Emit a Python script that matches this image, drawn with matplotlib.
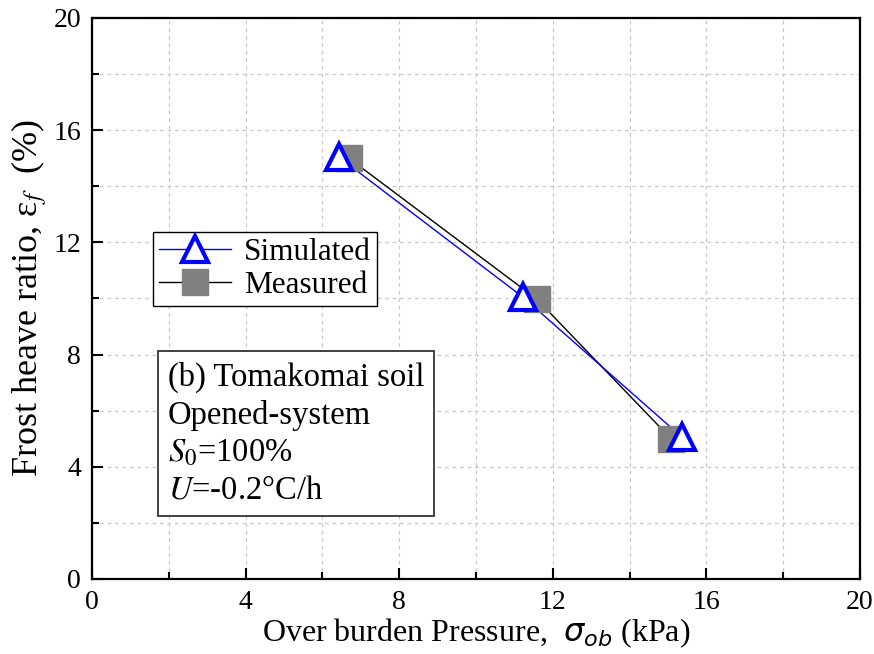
import numpy as np
import matplotlib
matplotlib.use("Agg")
import matplotlib.pyplot as plt
from matplotlib.ticker import MultipleLocator

plt.rcParams['font.family'] = ['Liberation Serif', 'DejaVu Serif']
plt.rcParams['mathtext.fontset'] = 'stix'

# data
sim_x = [6.43, 11.22, 15.36]
sim_y = [15.04, 10.05, 5.06]
meas_x = [6.69, 11.58, 15.08]
meas_y = [15.0, 9.98, 5.0]

x_ticks = [0, 4, 8, 12, 16, 20]
y_ticks = [0, 4, 8, 12, 16, 20]

fig = plt.figure(figsize=(8.74, 6.54), dpi=100)
ax = fig.add_axes([0.1053, 0.1147, 0.8787, 0.8578])

# lines first, markers on top
ax.plot(meas_x, meas_y, color='black', lw=1.0, zorder=3)
ax.plot(sim_x, sim_y, color='blue', lw=1.0, zorder=3)
ax.plot(meas_x, meas_y, ls='none', marker='s', ms=19, mfc='#808080', mec='#808080', zorder=4)
ax.plot(sim_x, sim_y, ls='none', marker='^', ms=19, mfc='white', mec='blue', mew=3, zorder=5)

# legend proxies
h_sim, = ax.plot([], [], color='blue', lw=1.0, marker='^', ms=19, mfc='white', mec='blue', mew=3)
h_meas, = ax.plot([], [], color='black', lw=1.0, marker='s', ms=19, mfc='#808080', mec='#808080')
leg = ax.legend([h_sim, h_meas], ['Simulated', 'Measured'], loc='upper left',
                bbox_to_anchor=(0.0794, 0.6185), borderaxespad=0, fontsize=22.5,
                handlelength=2.3, handletextpad=0.4, labelspacing=0.12,
                borderpad=0.2, fancybox=False, framealpha=1, edgecolor='black')
leg.get_frame().set_linewidth(1.0)

ax.text(0.099, 0.388,
        '(b) Tomakomai soil\nOpened-system\n$S_{\\mathit{0}}$=100%\n$U$=-0.2°C/h',
        transform=ax.transAxes, ha='left', va='top', fontsize=23.5, linespacing=1.3,
        bbox=dict(boxstyle='square,pad=0.3', fc='white', ec='#333333', lw=1.3))

ax.set_xlim(0, 20)
ax.set_ylim(0, 20)
ax.set_xticks(x_ticks)
ax.set_yticks(y_ticks)
ax.xaxis.set_minor_locator(MultipleLocator(2))
ax.yaxis.set_minor_locator(MultipleLocator(2))
ax.tick_params(which='both', direction='in', labelsize=20, width=1.5)
ax.tick_params(which='major', length=8)
ax.tick_params(which='minor', length=5)
ax.tick_params(axis='x', pad=8)
ax.tick_params(axis='y', pad=8)
ax.grid(True, which='both', ls=(0, (3, 3)), color='#c8c8c8', lw=0.9)
ax.set_axisbelow(True)
for s in ax.spines.values():
    s.set_linewidth(1.6)

ax.set_xlabel(r'Over burden Pressure,  $\sigma_{ob}$ (kPa)', fontsize=23,
              math_fontfamily='dejavusans', labelpad=1)
ax.set_ylabel(r'Frost heave ratio, ε$_f$  (%)', fontsize=26, labelpad=3)

fig.savefig('out.png', dpi=100)
